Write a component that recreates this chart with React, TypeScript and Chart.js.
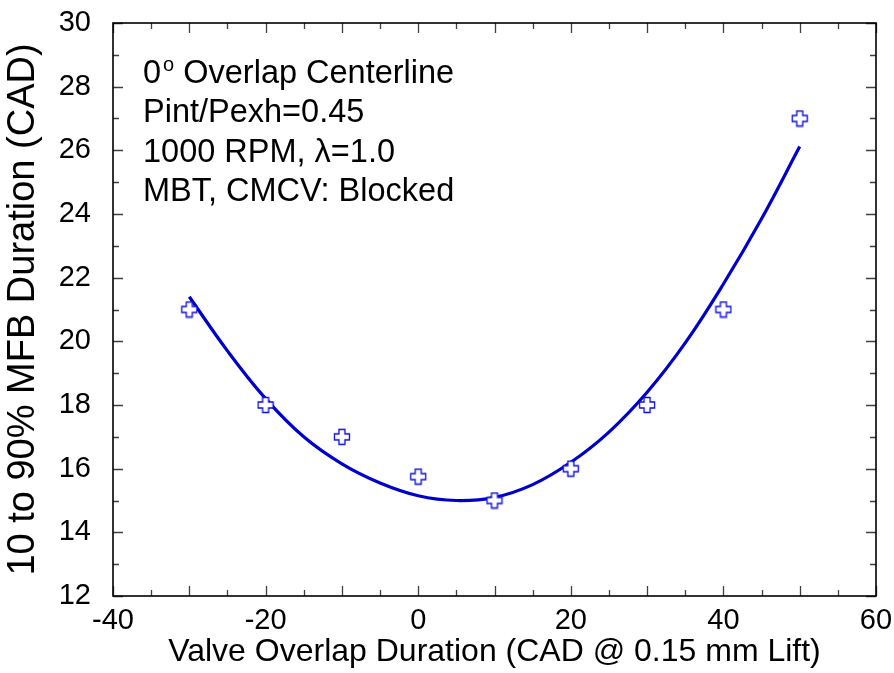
import React, { useEffect, useRef } from "react";
import { Chart, registerables } from "chart.js";

Chart.register(...registerables);

// Measured data points (open cross markers)
const markerX = [-30, -20, -10, 0, 10, 20, 30, 40, 50];
const markerY = [21, 18, 17, 15.75, 15, 16, 18, 21, 27];

// Fitted curve
const curveX = [-30, -25, -20, -15, -10, -5, 0, 5, 10, 15, 20, 25, 30, 35, 40, 45, 50];
const curveY = [21.4, 19.7, 18.2, 17.0, 16.15, 15.55, 15.15, 15.0, 15.1, 15.5, 16.2, 17.15, 18.4, 19.95, 21.8, 23.85, 26.12];

// Axis settings
const xRange = [-40, 60];
const yRange = [12, 30];
const xLabelStep = 20;
const yLabelStep = 2;

const xTitle = "Valve Overlap Duration (CAD @ 0.15 mm Lift)";
const yTitle = "10 to 90% MFB Duration (CAD)";

// Annotation lines (first line has a superscript degree "o")
const noteLine1 = ["0", "o", " Overlap Centerline"];
const noteLines = ["Pint/Pexh=0.45", "1000 RPM, \u03bb=1.0", "MBT, CMCV: Blocked"];

const FONT = "'Liberation Sans', Arial, Helvetica, sans-serif";

function makeCrossMarker(): HTMLCanvasElement {
  const c = document.createElement("canvas");
  c.width = 18;
  c.height = 18;
  const g = c.getContext("2d")!;
  const cx = 9, cy = 9, h = 3, L = 7.5;
  g.beginPath();
  g.moveTo(cx - h, cy - L);
  g.lineTo(cx + h, cy - L);
  g.lineTo(cx + h, cy - h);
  g.lineTo(cx + L, cy - h);
  g.lineTo(cx + L, cy + h);
  g.lineTo(cx + h, cy + h);
  g.lineTo(cx + h, cy + L);
  g.lineTo(cx - h, cy + L);
  g.lineTo(cx - h, cy + h);
  g.lineTo(cx - L, cy + h);
  g.lineTo(cx - L, cy - h);
  g.lineTo(cx - h, cy - h);
  g.closePath();
  g.fillStyle = "#ffffff";
  g.fill();
  g.strokeStyle = "#0c0ce0";
  g.lineWidth = 1.3;
  g.stroke();
  return c;
}

const framePlugin = {
  id: "frameTicks",
  afterDatasetsDraw(chart: any) {
    const { ctx, chartArea: a, scales } = chart;
    const xs = scales.x;
    const ys = scales.y;
    ctx.save();
    ctx.strokeStyle = "#404040";
    ctx.lineWidth = 1.3;
    for (let v = xRange[0]; v <= xRange[1] + 1e-9; v += 5) {
      const px = Math.round(xs.getPixelForValue(v)) + 0.5;
      const len = Math.round(v) % 10 === 0 ? 10 : 6;
      ctx.beginPath();
      ctx.moveTo(px, a.bottom);
      ctx.lineTo(px, a.bottom - len);
      ctx.moveTo(px, a.top);
      ctx.lineTo(px, a.top + len);
      ctx.stroke();
    }
    for (let v = yRange[0]; v <= yRange[1] + 1e-9; v += 1) {
      const py = Math.round(ys.getPixelForValue(v)) + 0.5;
      const len = Math.round(v) % 2 === 0 ? 10 : 6;
      ctx.beginPath();
      ctx.moveTo(a.left, py);
      ctx.lineTo(a.left + len, py);
      ctx.moveTo(a.right, py);
      ctx.lineTo(a.right - len, py);
      ctx.stroke();
    }
    ctx.strokeStyle = "#000000";
    ctx.lineWidth = 1.6;
    ctx.strokeRect(a.left, a.top, a.right - a.left, a.bottom - a.top);
    ctx.restore();
  },
  afterDraw(chart: any) {
    const { ctx, chartArea: a } = chart;
    ctx.save();
    ctx.fillStyle = "#000000";
    ctx.textBaseline = "alphabetic";
    ctx.textAlign = "left";
    const x0 = a.left + 30;
    const base0 = a.top + 60;
    const step = 39.3;
    ctx.font = `32.5px ${FONT}`;
    ctx.fillText(noteLine1[0], x0, base0);
    const w0 = ctx.measureText(noteLine1[0]).width;
    ctx.font = `20px ${FONT}`;
    ctx.fillText(noteLine1[1], x0 + w0 + 2, base0 - 12);
    const w1 = ctx.measureText(noteLine1[1]).width;
    ctx.font = `32.5px ${FONT}`;
    ctx.fillText(noteLine1[2], x0 + w0 + 2 + w1, base0);
    noteLines.forEach((t, i) => {
      ctx.fillText(t, x0, base0 + step * (i + 1));
    });
    ctx.restore();
  },
};

function clearPadding(s: any) {
  s.paddingTop = 0;
  s.paddingBottom = 0;
  s.paddingLeft = 0;
  s.paddingRight = 0;
}

export default function App() {
  const ref = useRef<HTMLCanvasElement | null>(null);

  useEffect(() => {
    document.body.style.margin = "0";
    const canvas = ref.current!;
    const marker = makeCrossMarker();
    const chart = new Chart(canvas, {
      type: "scatter",
      data: {
        datasets: [
          {
            label: "Data",
            data: markerX.map((x, i) => ({ x, y: markerY[i] })),
            pointStyle: marker as any,
            pointRadius: 9,
            showLine: false,
            order: 0,
          },
          {
            label: "Fit",
            data: curveX.map((x, i) => ({ x, y: curveY[i] })),
            showLine: true,
            borderColor: "#0000cc",
            borderWidth: 3.2,
            pointRadius: 0,
            tension: 0.4,
            fill: false,
            order: 1,
          },
        ],
      },
      options: {
        animation: false,
        responsive: false,
        devicePixelRatio: 1,
        layout: { padding: { left: 0, top: 23, right: 18, bottom: 0 } },
        plugins: {
          legend: { display: false },
          tooltip: { enabled: false },
        },
        scales: {
          x: {
            type: "linear",
            min: xRange[0],
            max: xRange[1],
            grid: { display: false, drawTicks: false },
            border: { display: false },
            ticks: {
              stepSize: xLabelStep,
              color: "#000",
              padding: 8,
              font: { family: FONT, size: 29 },
            },
            title: {
              display: true,
              text: xTitle,
              color: "#000",
              font: { family: FONT, size: 32 },
              padding: { top: 0, bottom: 2 },
            },
            afterFit: (s: any) => {
              s.height = 77;
              clearPadding(s);
            },
          },
          y: {
            type: "linear",
            min: yRange[0],
            max: yRange[1],
            grid: { display: false, drawTicks: false },
            border: { display: false },
            ticks: {
              stepSize: yLabelStep,
              color: "#000",
              padding: 22,
              font: { family: FONT, size: 29 },
            },
            title: {
              display: true,
              text: yTitle,
              color: "#000",
              font: { family: FONT, size: 38 },
              padding: { top: 1, bottom: 0 },
            },
            afterFit: (s: any) => {
              s.width = 113;
              clearPadding(s);
            },
          },
        },
      },
      plugins: [framePlugin],
    });
    return () => chart.destroy();
  }, []);

  return (
    <div style={{ position: "absolute", left: 0, top: 0, width: 894, height: 673, background: "#fff" }}>
      <canvas ref={ref} width={894} height={673} style={{ display: "block", width: 894, height: 673 }} />
    </div>
  );
}
